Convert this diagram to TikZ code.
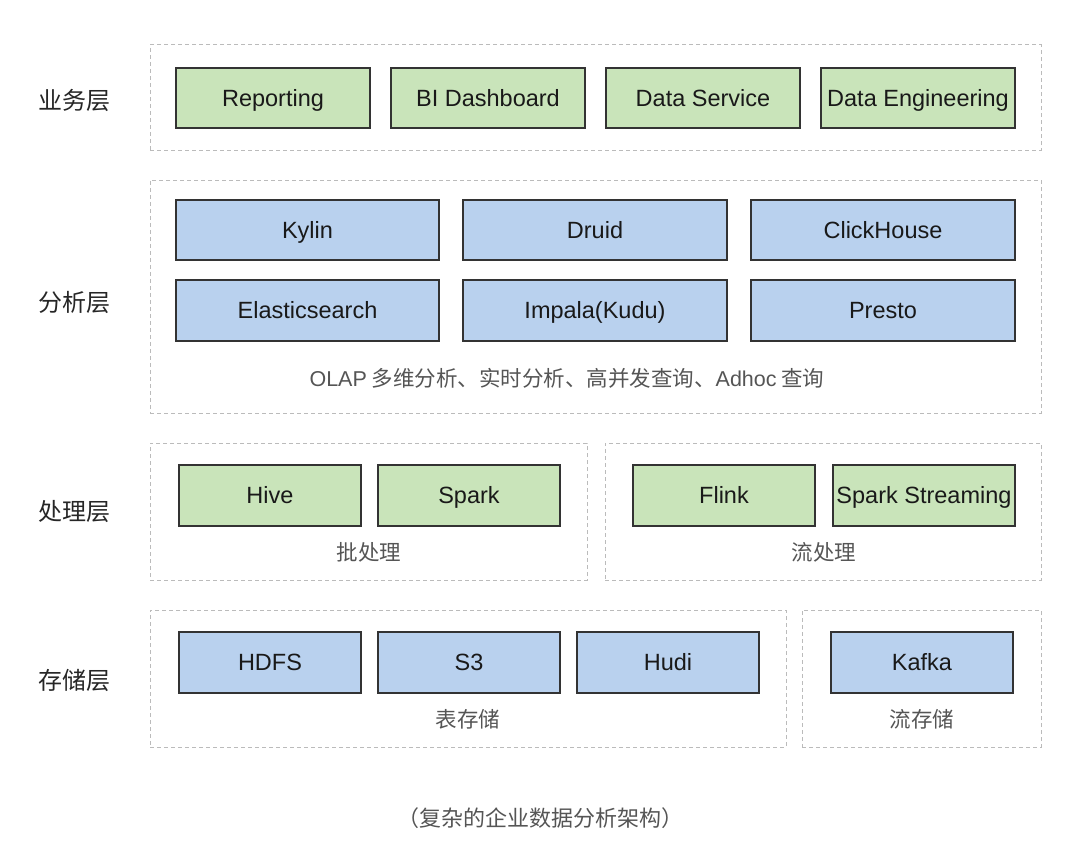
\documentclass[tikz,border=0pt]{standalone}
\usepackage{fontspec}
\setmainfont{Liberation Sans}
\newfontfamily\cjk{Noto Sans CJK SC}
\definecolor{gfill}{HTML}{C9E4BA}
\definecolor{bfill}{HTML}{B9D1EE}
\definecolor{edge}{HTML}{333333}
\definecolor{dashc}{HTML}{BBBBBB}
\definecolor{capc}{HTML}{555555}
\begin{document}
\begin{tikzpicture}[x=1pt,y=-1pt,
  box/.style={draw=edge, line width=1.4pt, inner sep=0pt, font=\fontsize{23.5}{26}\selectfont, text=black!90, text height=16.5pt, text depth=0pt},
  gbox/.style={box, fill=gfill},
  bbox/.style={box, fill=bfill},
  layer/.style={draw=dashc, line width=1pt, dash pattern=on 4pt off 3pt, inner sep=0pt},
  lab/.style={font=\cjk\fontsize{24}{28}\selectfont, text=black!85},
  captext/.style={font=\cjk\fontsize{21.5}{25}\selectfont, text=capc}]
\useasboundingbox (0,0) rectangle (1080,851);
% containers
\node[layer, minimum width=891pt, minimum height=105pt] (L1) at (595.5,97.5) {};
\node[layer, minimum width=891pt, minimum height=233pt] (L2) at (595.5,296.5) {};
\node[layer, minimum width=437pt, minimum height=137pt] (L3a) at (368.5,511.5) {};
\node[layer, minimum width=436pt, minimum height=137pt] (L3b) at (823,511.5) {};
\node[layer, minimum width=636pt, minimum height=137pt] (L4a) at (468,678.5) {};
\node[layer, minimum width=239pt, minimum height=137pt] (L4b) at (921.5,678.5) {};
% layer labels
\node[lab] (t1) at (74,100) {业务层};
\node[lab] (t2) at (74,302) {分析层};
\node[lab] (t3) at (74,512) {处理层};
\node[lab] (t4) at (74,680) {存储层};
% business
\node[gbox, minimum width=194pt, minimum height=60pt] (rep) at (273,98) {Reporting};
\node[gbox, minimum width=194pt, minimum height=60pt] (bi) at (488,98) {BI Dashboard};
\node[gbox, minimum width=194pt, minimum height=60pt] (ds) at (703,98) {Data Service};
\node[gbox, minimum width=194pt, minimum height=60pt] (de) at (918,98) {Data Engineering};
% analysis
\node[bbox, minimum width=263pt, minimum height=60pt] (kylin) at (307.5,230) {Kylin};
\node[bbox, minimum width=264pt, minimum height=60pt] (druid) at (595,230) {Druid};
\node[bbox, minimum width=264pt, minimum height=60pt] (ch) at (883,230) {ClickHouse};
\node[bbox, minimum width=263pt, minimum height=61pt] (es) at (307.5,310.5) {Elasticsearch};
\node[bbox, minimum width=264pt, minimum height=61pt] (imp) at (595,310.5) {Impala(Kudu)};
\node[bbox, minimum width=264pt, minimum height=61pt] (presto) at (883,310.5) {Presto};
\node[captext] (olap) at (567,378) {{\rmfamily OLAP} 多维分析、实时分析、高并发查询、{\rmfamily Adhoc} 查询};
% processing
\node[gbox, minimum width=182pt, minimum height=61pt] (hive) at (270,495.5) {Hive};
\node[gbox, minimum width=182pt, minimum height=61pt] (spark) at (469,495.5) {Spark};
\node[gbox, minimum width=182pt, minimum height=61pt] (flink) at (724,495.5) {Flink};
\node[gbox, minimum width=182pt, minimum height=61pt] (ss) at (924,495.5) {Spark Streaming};
\node[captext] (batch) at (369,552) {批处理};
\node[captext] (stream) at (824,552) {流处理};
% storage
\node[bbox, minimum width=182pt, minimum height=61pt] (hdfs) at (270,662.5) {HDFS};
\node[bbox, minimum width=182pt, minimum height=61pt] (s3) at (469,662.5) {S3};
\node[bbox, minimum width=182pt, minimum height=61pt] (hudi) at (668,662.5) {Hudi};
\node[bbox, minimum width=182pt, minimum height=61pt] (kafka) at (922,662.5) {Kafka};
\node[captext] (tbl) at (468,719) {表存储};
\node[captext] (sst) at (922,719) {流存储};
% caption
\node[captext, font=\cjk\fontsize{22}{26}\selectfont] (title) at (540,818) {（复杂的企业数据分析架构）};
\end{tikzpicture}
\end{document}
